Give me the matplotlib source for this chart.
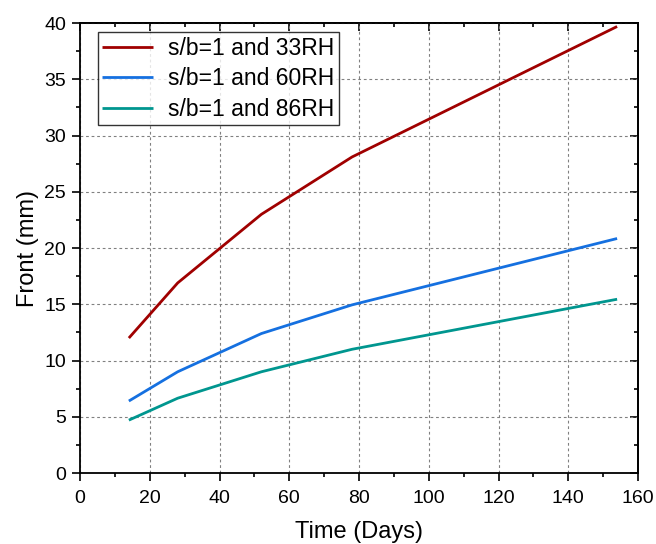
import matplotlib
matplotlib.use("Agg")
import matplotlib.pyplot as plt
from matplotlib.ticker import MultipleLocator

plt.rcParams['font.family'] = ['Liberation Sans', 'DejaVu Sans']

days = [14, 28, 52, 78, 154]
front_33rh = [12.0, 16.9, 23.0, 28.1, 39.7]
front_60rh = [6.4, 9.0, 12.4, 14.95, 20.85]
front_86rh = [4.7, 6.65, 9.0, 11.0, 15.45]
labels = ["s/b=1 and 33RH", "s/b=1 and 60RH", "s/b=1 and 86RH"]
colors = ["#A00000", "#1570E0", "#00968F"]

fig = plt.figure(figsize=(6.56, 5.44), dpi=100)
ax = fig.add_axes([0.122, 0.1305, 0.8506, 0.827])

for y, lab, c in zip([front_33rh, front_60rh, front_86rh], labels, colors):
    ax.plot(days, y, color=c, lw=2.0, label=lab, solid_capstyle='butt')

ax.set_xlim(0, 160)
ax.set_ylim(0, 40)
ax.xaxis.set_major_locator(MultipleLocator(20))
ax.xaxis.set_minor_locator(MultipleLocator(10))
ax.yaxis.set_major_locator(MultipleLocator(5))
ax.yaxis.set_minor_locator(MultipleLocator(2.5))

ax.grid(True, which='major', linestyle=(0, (2.5, 2.5)), color='#808080', lw=0.8)
ax.tick_params(which='both', direction='out', labelsize=14, width=1.2,
               top=False, right=False)
ax.tick_params(axis='x', which='both', pad=6)
ax.tick_params(axis='y', which='both', pad=4)
ax.tick_params(which='major', length=6)
ax.tick_params(which='minor', length=3)
for sp in ax.spines.values():
    sp.set_linewidth(1.3)

# inward ticks on the top and right frame edges
axt = ax.secondary_xaxis('top')
axt.xaxis.set_major_locator(MultipleLocator(20))
axt.xaxis.set_minor_locator(MultipleLocator(10))
axt.tick_params(which='both', direction='in', labeltop=False, width=1.2)
axt.tick_params(which='major', length=6)
axt.tick_params(which='minor', length=3)
axr = ax.secondary_yaxis('right')
axr.yaxis.set_major_locator(MultipleLocator(5))
axr.yaxis.set_minor_locator(MultipleLocator(2.5))
axr.tick_params(which='both', direction='in', labelright=False, width=1.2)
axr.tick_params(which='major', length=6)
axr.tick_params(which='minor', length=3)
for s in (axt, axr):
    for sp in s.spines.values():
        sp.set_linewidth(1.3)

ax.set_xlabel("Time (Days)", fontsize=17, labelpad=10)
ax.set_ylabel("Front (mm)", fontsize=17, labelpad=4)

leg = ax.legend(loc='upper left', bbox_to_anchor=(0.032, 0.98), fontsize=16.5,
                frameon=True, fancybox=False, edgecolor='black',
                handlelength=2.2, borderpad=0.2, labelspacing=0.33,
                borderaxespad=0.0, handletextpad=0.65)
leg.get_frame().set_linewidth(1.0)

fig.savefig("out.png", dpi=100)
